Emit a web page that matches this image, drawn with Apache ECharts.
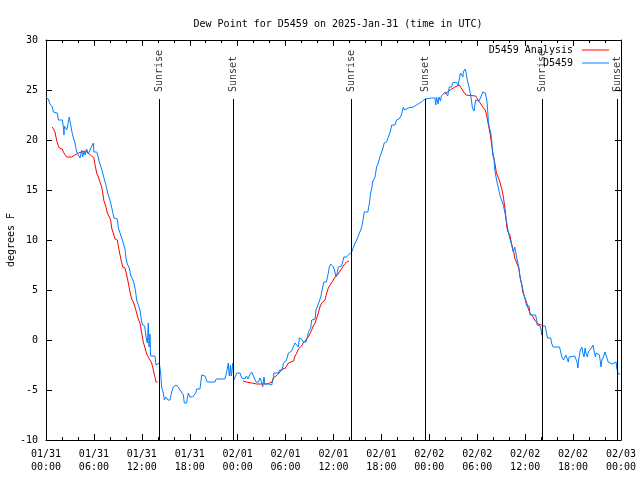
<!DOCTYPE html>
<html>
<head>
<meta charset="utf-8">
<script src="https://cdn.jsdelivr.net/npm/echarts@6/dist/echarts.min.js"></script>
<style>html,body{margin:0;padding:0;background:#fff;}#c{width:640px;height:480px;}</style>
</head>
<body>
<div id="c"></div>
<script>
// ---- data (hours since 2025-01-31 00:00 UTC, degrees F) ----
var xTickLabels = ['01/31\n00:00','01/31\n06:00','01/31\n12:00','01/31\n18:00',
  '02/01\n00:00','02/01\n06:00','02/01\n12:00','02/01\n18:00',
  '02/02\n00:00','02/02\n06:00','02/02\n12:00','02/02\n18:00','02/03\n00:00'];
var yTicks = [-10,-5,0,5,10,15,20,25,30];
var sunTimes = [14.15, 23.45, 38.2, 47.5, 62.15, 71.5];
var sunNames = ['Sunrise','Sunset','Sunrise','Sunset','Sunrise','Sunset'];

var obsD5459 = [[0,24.3],[0.29,24.1],[0.5,23.6],[0.8,23.3],[0.92,22.8],[1.42,22.7],[1.55,22.0],[2.05,22.0],[2.17,21.3],[2.25,20.5],[2.3,21.4],[2.6,21.0],[2.8,21.8],[2.9,22.3],[3.1,21.5],[3.2,21.0],[3.4,20.3],[3.6,19.8],[3.84,18.8],[4.05,18.5],[4.26,18.2],[4.47,19.0],[4.6,18.3],[4.76,18.9],[4.9,18.5],[5.09,19.1],[5.3,18.6],[5.5,19.0],[5.7,18.8],[5.93,19.7],[6.0,18.8],[6.35,18.8],[6.47,18.5],[6.68,17.8],[6.89,17.3],[7.1,16.7],[7.26,16.2],[7.47,15.6],[7.72,14.7],[7.93,14.2],[8.1,13.7],[8.35,12.8],[8.51,12.2],[8.93,12.1],[9.06,11.2],[9.27,10.7],[9.47,10.2],[9.68,9.7],[9.89,9.1],[10.02,8.2],[10.18,7.6],[10.43,7.2],[10.6,6.5],[10.85,6.3],[11.02,5.7],[11.23,4.8],[11.35,4.0],[11.6,4.0],[11.77,3.0],[11.98,1.8],[12.1,1.5],[12.36,1.4],[12.52,0.3],[12.69,-0.3],[12.81,1.7],[12.9,-0.7],[13.02,0.6],[13.1,-1.6],[13.65,-1.6],[13.77,-2.5],[13.94,-2.5],[14.19,-2.3],[14.36,-3.3],[14.48,-4.7],[14.69,-5.3],[14.82,-6.0],[15.03,-5.7],[15.24,-6.0],[15.53,-6.0],[15.74,-5.2],[15.94,-4.7],[16.28,-4.5],[16.57,-4.7],[16.78,-5.0],[16.99,-5.0],[17.2,-5.5],[17.32,-6.3],[17.6,-6.3],[17.82,-5.3],[18.0,-5.7],[18.36,-5.7],[18.53,-5.9],[18.74,-5.3],[18.87,-4.9],[19.28,-4.9],[19.5,-3.5],[19.62,-3.3],[19.9,-3.6],[20.2,-4.2],[21.16,-4.2],[21.3,-3.9],[22.4,-3.9],[22.6,-3.3],[22.83,-2.3],[22.95,-3.6],[23.1,-2.5],[23.2,-3.6],[23.4,-2.3],[23.5,-4.0],[23.6,-4.2],[23.9,-3.3],[24.3,-3.3],[24.5,-3.8],[24.7,-3.6],[24.9,-3.9],[25.1,-3.6],[25.3,-3.9],[25.5,-3.5],[25.76,-3.2],[25.97,-3.6],[26.3,-4.2],[26.6,-4.2],[26.8,-3.8],[27.0,-4.2],[27.13,-4.7],[27.3,-3.7],[27.4,-4.4],[27.6,-4.3],[27.9,-4.4],[28.1,-4.2],[28.26,-4.5],[28.47,-3.8],[28.55,-3.3],[29.1,-3.3],[29.25,-3.0],[29.6,-3.0],[29.72,-2.3],[29.9,-2.5],[30.05,-2.1],[30.2,-1.8],[30.35,-1.3],[30.56,-1.1],[30.76,-1.1],[30.9,-0.8],[31.18,-0.3],[31.4,-0.3],[31.6,-0.7],[31.72,0.2],[32.0,0.1],[32.2,-0.2],[32.56,-0.2],[32.73,0.3],[32.85,0.8],[32.97,0.7],[33.14,1.2],[33.27,2.0],[33.47,2.1],[33.7,2.1],[33.8,3.0],[33.97,3.3],[34.2,3.3],[34.4,4.3],[34.52,4.8],[34.65,4.7],[34.8,5.8],[35.1,5.8],[35.35,6.7],[35.48,7.3],[35.65,7.6],[35.9,7.4],[36.0,7.3],[36.19,6.8],[36.3,6.3],[36.5,6.8],[36.6,7.3],[37.0,7.4],[37.15,7.8],[37.3,8.3],[37.6,8.3],[37.86,8.5],[38.28,8.8],[38.5,9.0],[38.7,9.7],[38.9,10.0],[39.1,10.4],[39.3,10.8],[39.5,11.2],[39.7,12.0],[39.85,12.8],[40.1,13.0],[40.3,12.8],[40.5,13.7],[40.65,14.7],[40.8,15.2],[40.9,15.8],[41.1,15.7],[41.2,16.3],[41.3,16.8],[41.4,17.3],[41.6,17.7],[41.8,18.3],[42.0,18.7],[42.2,19.2],[42.35,19.7],[42.65,19.8],[42.86,20.3],[43.1,20.8],[43.3,21.5],[43.5,21.7],[43.7,21.5],[43.9,22.0],[44.2,22.1],[44.5,22.5],[44.74,23.3],[44.9,23.0],[45.35,23.2],[46.0,23.3],[46.4,23.5],[46.6,23.7],[47.0,23.8],[47.46,24.1],[48.3,24.2],[48.7,24.2],[48.8,23.5],[48.9,24.3],[49.1,23.6],[49.2,24.3],[49.4,23.9],[49.5,24.4],[49.7,24.3],[50.0,24.8],[50.2,25.0],[50.3,24.4],[50.5,25.3],[50.8,25.3],[50.9,25.7],[51.4,25.8],[51.6,25.5],[51.76,26.1],[51.9,26.7],[52.0,26.7],[52.2,26.3],[52.26,26.8],[52.47,27.1],[52.6,26.8],[52.75,26.0],[53.0,25.2],[53.17,24.5],[53.3,23.8],[53.4,23.2],[53.6,22.9],[53.7,23.5],[53.8,24.0],[54.0,24.2],[54.2,23.9],[54.4,24.2],[54.7,24.8],[54.85,25.0],[55.0,24.7],[55.2,24.0],[55.3,23.0],[55.4,21.8],[55.5,21.3],[55.7,20.7],[55.8,20.0],[55.93,18.5],[56.1,18.2],[56.2,17.0],[56.35,16.3],[56.5,15.7],[56.7,15.0],[56.9,14.3],[57.2,13.7],[57.5,12.6],[57.7,11.7],[57.9,10.7],[58.1,10.6],[58.3,9.5],[58.5,8.8],[58.7,9.3],[58.9,9.3],[59.0,8.0],[59.2,7.3],[59.3,6.7],[59.44,6.0],[59.57,5.6],[59.8,5.6],[59.85,4.5],[60.1,4.5],[60.2,3.4],[60.5,3.4],[60.6,2.5],[60.8,2.3],[61.0,2.5],[61.3,2.5],[61.45,2.0],[61.5,1.5],[61.86,1.4],[62.0,1.0],[62.07,0.5],[62.2,1.4],[62.5,1.4],[62.6,1.0],[62.8,0.2],[63.2,0.2],[63.3,-0.3],[63.5,-0.7],[64.3,-0.7],[64.45,-1.2],[64.6,-1.7],[64.8,-2.0],[65.0,-2.0],[65.1,-1.5],[65.3,-1.3],[65.4,-2.2],[65.5,-1.7],[66.2,-1.6],[66.5,-2.2],[66.6,-2.8],[66.7,-2.0],[66.9,-1.0],[67.1,-0.7],[67.2,-1.2],[67.37,-1.7],[67.5,-0.8],[67.6,-1.3],[67.8,-1.7],[67.9,-1.2],[68.1,-1.0],[68.3,-0.8],[68.5,-0.5],[68.6,-1.0],[68.8,-1.7],[68.9,-1.3],[69.1,-1.5],[69.3,-1.5],[69.5,-2.7],[69.6,-2.0],[69.8,-1.7],[70.0,-1.2],[70.2,-1.7],[70.4,-2.2],[70.6,-2.4],[70.9,-2.4],[71.1,-2.2],[71.4,-2.2],[71.46,-2.8],[71.66,-3.4],[71.9,-3.4]];

var analysisNight1 = [[0.79,21.3],[1.0,21.3],[1.13,20.8],[1.25,20.3],[1.42,19.7],[1.67,19.2],[2.0,19.1],[2.25,18.7],[2.59,18.3],[3.2,18.3],[3.6,18.5],[4.05,18.7],[4.47,18.8],[4.9,18.9],[5.3,18.7],[5.72,18.4],[6.0,18.2],[6.14,17.5],[6.35,16.7],[6.55,16.3],[6.76,15.8],[6.97,15.3],[7.1,14.7],[7.26,13.9],[7.51,13.3],[7.68,12.7],[7.93,12.5],[8.1,12.0],[8.22,11.2],[8.43,10.7],[8.64,10.1],[8.93,10.0],[9.14,9.0],[9.35,8.2],[9.6,7.3],[9.89,7.2],[10.1,6.5],[10.31,5.7],[10.52,4.8],[10.73,4.1],[10.94,3.8],[11.14,3.3],[11.35,2.7],[11.56,2.1],[11.77,1.7],[11.98,0.7],[12.18,-0.2],[12.4,-0.8],[12.6,-1.4],[12.81,-1.7],[13.02,-1.9],[13.23,-2.3],[13.44,-3.0],[13.65,-3.7],[13.77,-4.2],[13.98,-4.2]];
var analysisNight2 = [[24.7,-4.1],[25.1,-4.2],[25.76,-4.3],[26.4,-4.4],[27.6,-4.4],[28.0,-4.3],[28.3,-4.2],[28.47,-3.8],[28.7,-3.7],[28.96,-3.5],[29.3,-3.2],[29.64,-2.8],[29.9,-2.9],[30.1,-2.7],[30.35,-2.3],[30.56,-2.1],[31.0,-2.1],[31.18,-1.6],[31.4,-1.3],[31.6,-0.9],[31.8,-0.9],[32.0,-0.6],[32.2,-0.3],[32.56,0.0],[32.73,0.2],[32.97,0.5],[33.27,1.0],[33.47,1.4],[33.7,1.7],[33.9,2.2],[34.1,2.7],[34.3,3.3],[34.52,3.7],[34.7,3.9],[34.93,4.0],[35.15,4.7],[35.35,5.2],[35.65,5.6],[35.98,6.0],[36.2,6.3],[36.5,6.5],[36.73,6.8],[37.0,7.1],[37.3,7.5],[37.65,7.8],[37.94,7.9]];
var analysisNight3 = [[49.9,24.6],[50.6,25.0],[51.2,25.3],[51.76,25.5],[52.0,25.3],[52.3,24.8],[52.6,24.5],[53.8,24.4],[54.0,24.3],[54.1,24.0],[54.35,23.8],[54.7,23.3],[55.0,23.0],[55.2,22.4],[55.4,21.5],[55.6,20.7],[56.0,18.5],[56.2,17.7],[56.4,16.7],[56.76,16.0],[57.1,15.0],[57.27,14.3],[57.5,13.0],[57.7,11.3],[57.8,10.9],[58.1,10.5],[58.2,10.0],[58.4,9.3],[58.6,8.7],[58.7,8.2],[58.9,8.0],[59.2,7.2],[59.35,6.3],[59.57,5.5],[59.7,4.8],[59.98,4.2],[60.2,3.7],[60.4,3.1],[60.6,2.7],[61.0,2.3],[61.2,2.0],[61.6,1.6],[62.07,1.5]];

// ---- chart ----
var FONT = 'DejaVu Sans Mono';
var sunLineTop = 24.1;
var RED = '#ff0000', BLUE = '#0080ff';
var chart = echarts.init(document.getElementById('c'), null, {renderer: 'canvas'});

function xAxisDef(pos, showLabel) {
  return {
    type: 'value', position: pos, min: 0, max: 72, interval: 6,
    axisLine: {show: true, onZero: false, lineStyle: {color: '#000', width: 1}},
    axisTick: {show: true, inside: true, length: 6, lineStyle: {color: '#000'}},
    minorTick: {show: true, splitNumber: 3, length: 3, lineStyle: {color: '#000'}},
    splitLine: {show: false},
    axisLabel: {show: showLabel, fontFamily: FONT, fontSize: 10, color: '#000', margin: 8, lineHeight: 13,
      formatter: function (v) { return xTickLabels[Math.round(v / 6)]; }}
  };
}
function yAxisDef(pos, showLabel) {
  return {
    type: 'value', position: pos, min: -10, max: 30, interval: 5,
    axisLine: {show: true, onZero: false, lineStyle: {color: '#000', width: 1}},
    axisTick: {show: true, inside: true, length: 6, lineStyle: {color: '#000'}},
    splitLine: {show: false},
    name: showLabel ? 'degrees F' : '', nameLocation: 'middle', nameGap: 30, nameRotate: 90,
    nameMoveOverlap: false,
    nameTextStyle: {fontFamily: FONT, fontSize: 10, color: '#000'},
    axisLabel: {show: showLabel, fontFamily: FONT, fontSize: 10, color: '#000', margin: 8}
  };
}

var analysisSeries = [analysisNight1, analysisNight2, analysisNight3].map(function (seg) {
  return {
    name: 'D5459 Analysis', type: 'line', data: seg, symbol: 'none', showSymbol: false,
    lineStyle: {color: RED, width: 1}, itemStyle: {color: RED}, z: 2
  };
});

var option = {
  animation: false,
  backgroundColor: '#fff',
  title: {
    text: 'Dew Point for D5459 on 2025-Jan-31 (time in UTC)',
    left: 333, top: 14, textAlign: 'center',
    textStyle: {fontFamily: FONT, fontSize: 10, fontWeight: 'normal', color: '#000'}
  },
  legend: {
    data: ['D5459 Analysis', 'D5459'], orient: 'vertical', align: 'right',
    right: 31, top: 45, padding: 0, itemGap: 3, itemWidth: 27, itemHeight: 1, icon: 'rect',
    textStyle: {fontFamily: FONT, fontSize: 10, color: '#000', padding: [0, 4, 0, 0]}
  },
  grid: {left: 46, right: 19, top: 40, bottom: 40, show: false, containLabel: false, outerBoundsMode: 'none'},
  xAxis: [xAxisDef('bottom', true), xAxisDef('top', false)],
  yAxis: [yAxisDef('left', true), yAxisDef('right', false)],
  series: [
    {
      name: 'sun', type: 'scatter', symbolSize: 0,
      itemStyle: {color: 'rgba(0,0,0,0)'},
      data: sunTimes.map(function (t, i) { return {value: [t, sunLineTop], name: sunNames[i]}; }),
      label: {show: true, formatter: '{b}', position: 'top', distance: 7, rotate: 90,
        align: 'left', verticalAlign: 'middle', fontFamily: FONT, fontSize: 10, color: '#000'},
      markLine: {
        silent: true, symbol: ['none', 'none'], label: {show: false},
        lineStyle: {color: '#000', width: 1, type: 'solid'},
        data: sunTimes.map(function (t) { return [{coord: [t, -10]}, {coord: [t, sunLineTop]}]; })
      },
      z: 1
    }
  ].concat(analysisSeries).concat([
    {
      name: 'D5459', type: 'line', data: obsD5459, symbol: 'none', showSymbol: false,
      lineStyle: {color: BLUE, width: 1}, itemStyle: {color: BLUE}, z: 3
    }
  ])
};
chart.setOption(option);
</script>
</body>
</html>
